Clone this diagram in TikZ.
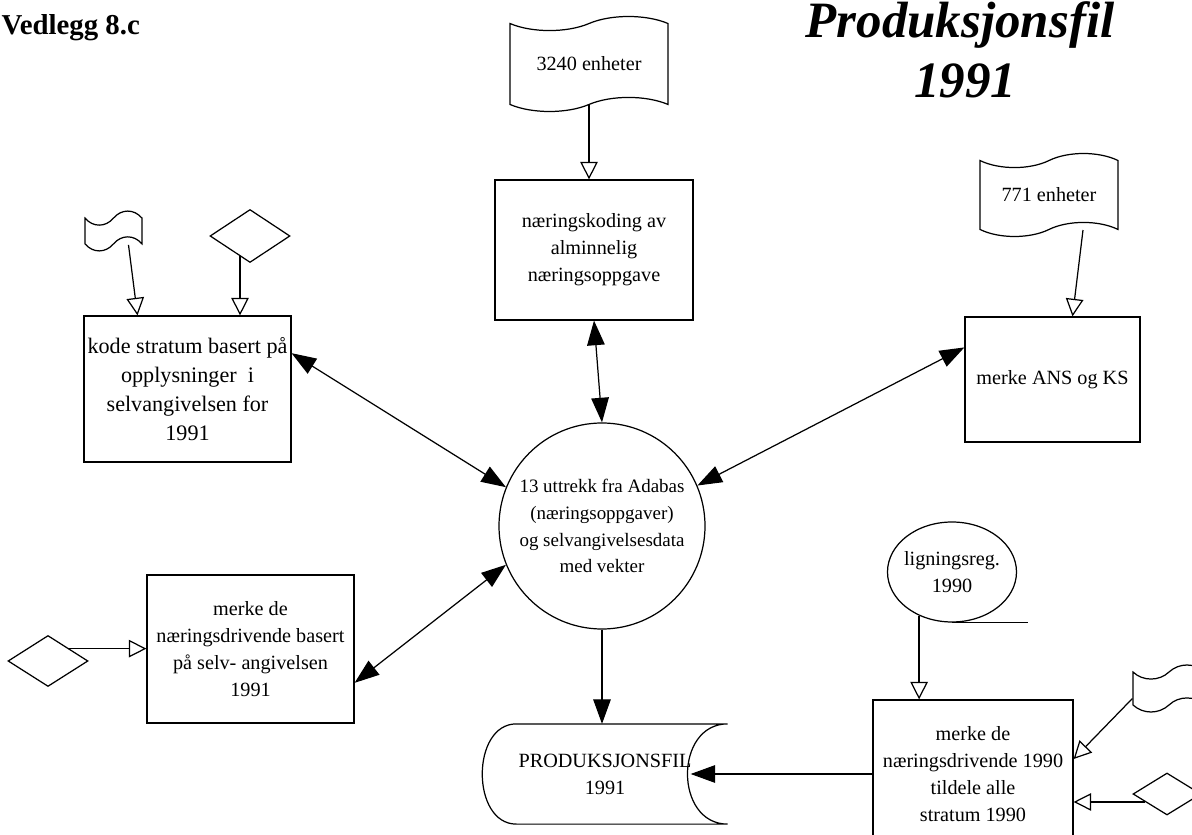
\documentclass[tikz,border=0pt]{standalone}
\usepackage{fontspec}
\setmainfont{Liberation Serif}
\usetikzlibrary{arrows.meta,shapes.geometric,shapes.symbols}

\begin{document}
\begin{tikzpicture}[line width=0.7pt, font=\fontsize{11.5}{15.3}\selectfont,
	>={Triangle[length=14pt,width=10pt]},
	hollow/.style={-{Triangle[open,length=10pt,width=10pt]}},
	proc/.style={draw, rectangle, align=center, inner sep=2pt},
	punch/.style={draw, tape, align=center, tape bend height=8pt},
	deci/.style={draw, diamond, inner sep=0pt}]
	\useasboundingbox (0,0) rectangle (23.84,16.68);
	\node[anchor=base west, inner xsep=0pt, font=\fontsize{16.4}{19}\selectfont\bfseries] (vedlegg) at (0.02,15.98) {Vedlegg 8.c};
	\node[anchor=base, font=\fontsize{29}{35}\selectfont\bfseries\itshape] (tittel) at (19.2,15.93) {Produksjonsfil};
	\node[anchor=base, font=\fontsize{29}{35}\selectfont\bfseries\itshape] (tittelaar) at (19.3,14.72) {1991};

	\node[punch, minimum width=3.16cm, minimum height=1.9cm] (enh3240) at (11.78,15.4) {3240 enheter};
	\node[proc, minimum width=3.96cm, minimum height=2.8cm] (koding) at (11.88,11.68) {næringskoding av\\alminnelig\\næringsoppgave};
	\node[punch, minimum width=1.14cm, minimum height=0.76cm] (flagB) at (2.27,12.06) {};
	\node[deci, minimum width=1.6cm, minimum height=1.06cm] (diaB) at (5.0,11.96) {};
	\node[proc, minimum width=4.1cm, minimum height=2.92cm, font=\fontsize{12.6}{16.4}\selectfont] (stratum) at (3.75,8.9) {kode stratum basert på\\opplysninger~ i\\selvangivelsen for\\1991};
	\node[draw, circle, minimum size=4.12cm, inner sep=0pt] (uttrekk) at (12.04,6.16) {};
	\node[align=center, font=\fontsize{10.8}{15.3}\selectfont] (uttrekktekst) at (uttrekk) {13 uttrekk fra Adabas\\(næringsoppgaver)\\og selvangivelsesdata\\med vekter};
	\node[punch, minimum width=2.76cm, minimum height=1.66cm] (enh771) at (20.98,12.78) {771 enheter};
	\node[proc, minimum width=3.5cm, minimum height=2.5cm] (ans) at (21.05,9.09) {merke ANS og KS};
	\node[proc, minimum width=4.14cm, minimum height=2.96cm] (merke91) at (5.01,3.70) {merke de\\næringsdrivende basert\\på selv- angivelsen\\1991};
	\node[deci, minimum width=1.6cm, minimum height=1.02cm] (diaE) at (0.96,3.46) {};
	\node[align=center, minimum width=4.88cm, minimum height=1.98cm, inner sep=0pt] (prodfil) at (12.1,1.2) {PRODUKSJONSFIL\\1991};
	\node[proc, minimum width=4.0cm, minimum height=2.96cm] (merke90) at (19.46,1.2) {merke de\\næringsdrivende 1990\\tildele alle\\stratum 1990};
	\node[draw, ellipse, minimum width=2.58cm, minimum height=2.0cm, inner sep=0pt] (ligreg) at (19.04,5.24) {};
	\node[align=center] (ligregtekst) at (ligreg) {ligningsreg.\\1990};
	\node[punch, minimum width=1.44cm, minimum height=0.94cm] (flagF) at (23.38,2.91) {};
	\node[deci, minimum width=1.36cm, minimum height=0.84cm] (diaF) at (23.34,0.8) {};

	\draw ([xshift=0.68cm]prodfil.north west) -- (prodfil.north east)
		.. controls ([xshift=-1.07cm]prodfil.north east) and ([xshift=-1.07cm]prodfil.south east) .. (prodfil.south east)
		-- ([xshift=0.68cm]prodfil.south west)
		.. controls ([xshift=-0.23cm]prodfil.south west) and ([xshift=-0.23cm]prodfil.north west) .. cycle;
	\draw (ligreg.south) -- ++(1.52,0);

	\draw[hollow] (enh3240.south) -- (enh3240.south |- koding.north);
	\draw[hollow] ([xshift=0.3cm]flagB.south) -- ([xshift=-1cm]stratum.north);
	\draw[hollow] (diaB.-116.6) -- (diaB.-116.6 |- stratum.north);
	\draw[hollow] ([xshift=0.68cm]enh771.south) -- ([xshift=0.4cm]ans.north);
	\draw[<->] (koding.south) -- (uttrekk.north);
	\draw[<->] (stratum.19) -- (uttrekk.158);
	\draw[<->] (ans.160) -- (uttrekk.23.5);
	\draw[<->] (merke91.-18) -- (uttrekk.-158.5);
	\draw[hollow] (diaE.30) -- (diaE.30 -| merke91.west);
	\draw[->] (uttrekk.south) -- (uttrekk.south |- prodfil.north);
	\draw[->] (merke90.west) -- ([xshift=-0.74cm]prodfil.east);
	\draw[hollow] (ligreg.-127.5) -- (ligreg.-127.5 |- merke90.north);
	\draw[hollow] ([yshift=-0.2cm]flagF.west) -- ([yshift=0.3cm]merke90.east);
	\draw[hollow] (diaF.200) -- (diaF.200 -| merke90.east);
\end{tikzpicture}
\end{document}
